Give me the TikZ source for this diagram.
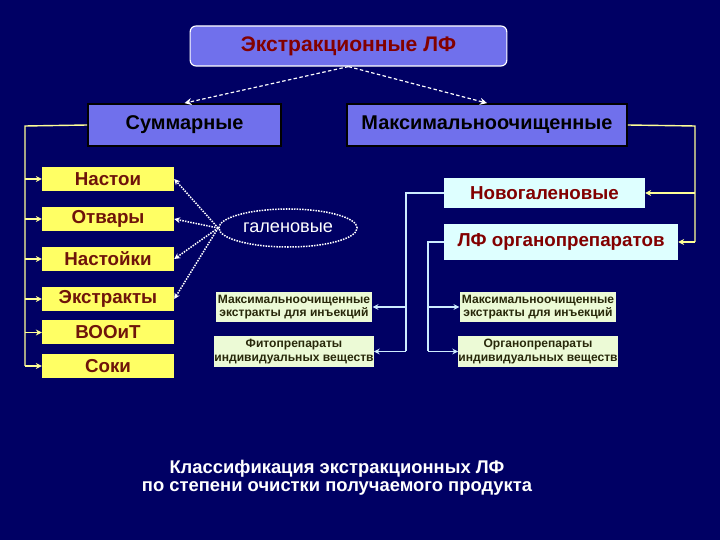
\documentclass[tikz,border=0pt]{standalone}
\usepackage{fontspec}
\setmainfont{Liberation Sans}
\usepackage{xcolor}
\usetikzlibrary{arrows.meta,shapes.geometric}

\definecolor{bgnavy}{RGB}{0,0,100}
\definecolor{violetbox}{RGB}{112,112,236}
\definecolor{darkred}{RGB}{130,0,0}
\definecolor{brownred}{RGB}{110,20,10}
\definecolor{yelbox}{RGB}{255,255,100}
\definecolor{yelline}{RGB}{255,255,150}
\definecolor{mintbox}{RGB}{236,250,214}
\definecolor{cyanbox}{RGB}{222,255,255}
\definecolor{cyanline}{RGB}{205,235,255}
\definecolor{olivetext}{RGB}{40,40,10}

\tikzset{
  titlebox/.style={draw=white, line width=1pt, rounded corners=5pt, fill=violetbox,
    minimum width=9.5cm, minimum height=1.2cm, text=darkred,
    font=\fontsize{18}{20}\selectfont\bfseries},
  groupbox/.style={draw={RGB:red,200;green,200;blue,255}, line width=1.5pt, fill=violetbox,
    minimum height=1.26cm, text=black, font=\fontsize{17}{19}\selectfont\bfseries},
  kindbox/.style={fill=yelbox, minimum width=3.96cm, minimum height=0.72cm,
    inner sep=0pt, text=brownred, font=\fontsize{16}{18}\selectfont\bfseries},
  newbox/.style={fill=cyanbox, minimum height=0.9cm, inner sep=0pt, text=darkred,
    font=\fontsize{16}{18}\selectfont\bfseries},
  smallbox/.style={fill=mintbox, minimum width=4.7cm, minimum height=0.9cm, inner sep=0pt,
    align=center, text=olivetext, font=\fontsize{10.3}{11.5}\selectfont\bfseries},
  yline/.style={yelline, line width=1.2pt},
  yarrow/.style={yline, -{Stealth[length=5pt,width=5pt]}},
  cline/.style={cyanline, line width=1.2pt},
  carrow/.style={cline, -{Stealth[length=5pt,width=5pt]}},
  dotarrow/.style={white, line width=1.3pt, densely dotted, -{Stealth[length=5pt,width=5pt]}},
  toparrow/.style={white, line width=1pt, densely dashed, -{Stealth[length=6pt,width=6pt]}}
}

\begin{document}
\begin{tikzpicture}[x=0.03cm,y=-0.03cm]
% background
\fill[bgnavy] (0,0) rectangle (720,540);
\useasboundingbox (0,0) rectangle (720,540);

% top and groups
\node[titlebox] (top) at (348.5,46) {Экстракционные ЛФ};
\node[groupbox, minimum width=5.79cm] (sum) at (184.5,125) {Суммарные};
\node[groupbox, minimum width=8.4cm] (max) at (487,125) {Максимальноочищенные};
\draw[toparrow] (top.south) -- (sum.north);
\draw[toparrow] (top.south) -- (max.north);

% galenic kinds
\node[kindbox] (nast) at (108,179) {Настои};
\node[kindbox] (otv) at (108,219) {Отвары};
\node[kindbox] (nsk) at (108,259) {Настойки};
\node[kindbox] (ekst) at (108,299) {Экстракты};
\node[kindbox] (vooit) at (108,332.5) {ВООиТ};
\node[kindbox] (soki) at (108,366) {Соки};

\coordinate (lbus) at (25,126);
\draw[yline] (sum.west) -- (lbus) -- (lbus |- soki.west);
\foreach \n in {nast,otv,nsk,ekst,vooit,soki}
  \draw[yarrow] (lbus |- \n.west) -- (\n.west);

\node[ellipse, draw=white, line width=1.3pt, densely dotted, minimum width=4cm,
  minimum height=1.14cm, text=white, font=\fontsize{15.5}{17}\selectfont] (gal) at (288,228) {галеновые};
\foreach \n in {nast,otv,nsk,ekst}
  \draw[dotarrow] (gal.west) -- (\n.east);

% purified kinds
\node[newbox, minimum width=6.03cm] (novo) at (544.5,193) {Новогаленовые};
\node[newbox, minimum width=7.02cm, minimum height=1.08cm] (lforg) at (561,242) {ЛФ органопрепаратов};

\coordinate (rbus) at (695,126);
\draw[yline] (max.east) -- (rbus) -- (rbus |- lforg.east);
\draw[yarrow] (rbus |- novo.east) -- (novo.east);
\draw[yarrow] (rbus |- lforg.east) -- (lforg.east);

\node[smallbox] (mexl) at (294,307) {Максимальноочищенные\\экстракты для инъекций};
\node[smallbox] (fito) at (294,351.5) {Фитопрепараты\\индивидуальных веществ};
\node[smallbox] (mexr) at (538,307) {Максимальноочищенные\\экстракты для инъекций};
\node[smallbox] (org) at (538,351.5) {Органопрепараты\\индивидуальных веществ};

\coordinate (cbusl) at (406,193);
\draw[cline] (novo.west) -- (cbusl) -- (cbusl |- fito.east);
\draw[carrow] (cbusl |- mexl.east) -- (mexl.east);
\draw[carrow] (cbusl |- fito.east) -- (fito.east);

\coordinate (cbusr) at (428,242);
\draw[cline] (lforg.west) -- (cbusr) -- (cbusr |- org.west);
\draw[carrow] (cbusr |- mexr.west) -- (mexr.west);
\draw[carrow] (cbusr |- org.west) -- (org.west);

% caption
\node[text=white, align=center, font=\fontsize{15.7}{15.5}\selectfont\bfseries] (capt) at (337,478)
  {Классификация экстракционных ЛФ\\по степени очистки получаемого продукта};
\end{tikzpicture}
\end{document}
